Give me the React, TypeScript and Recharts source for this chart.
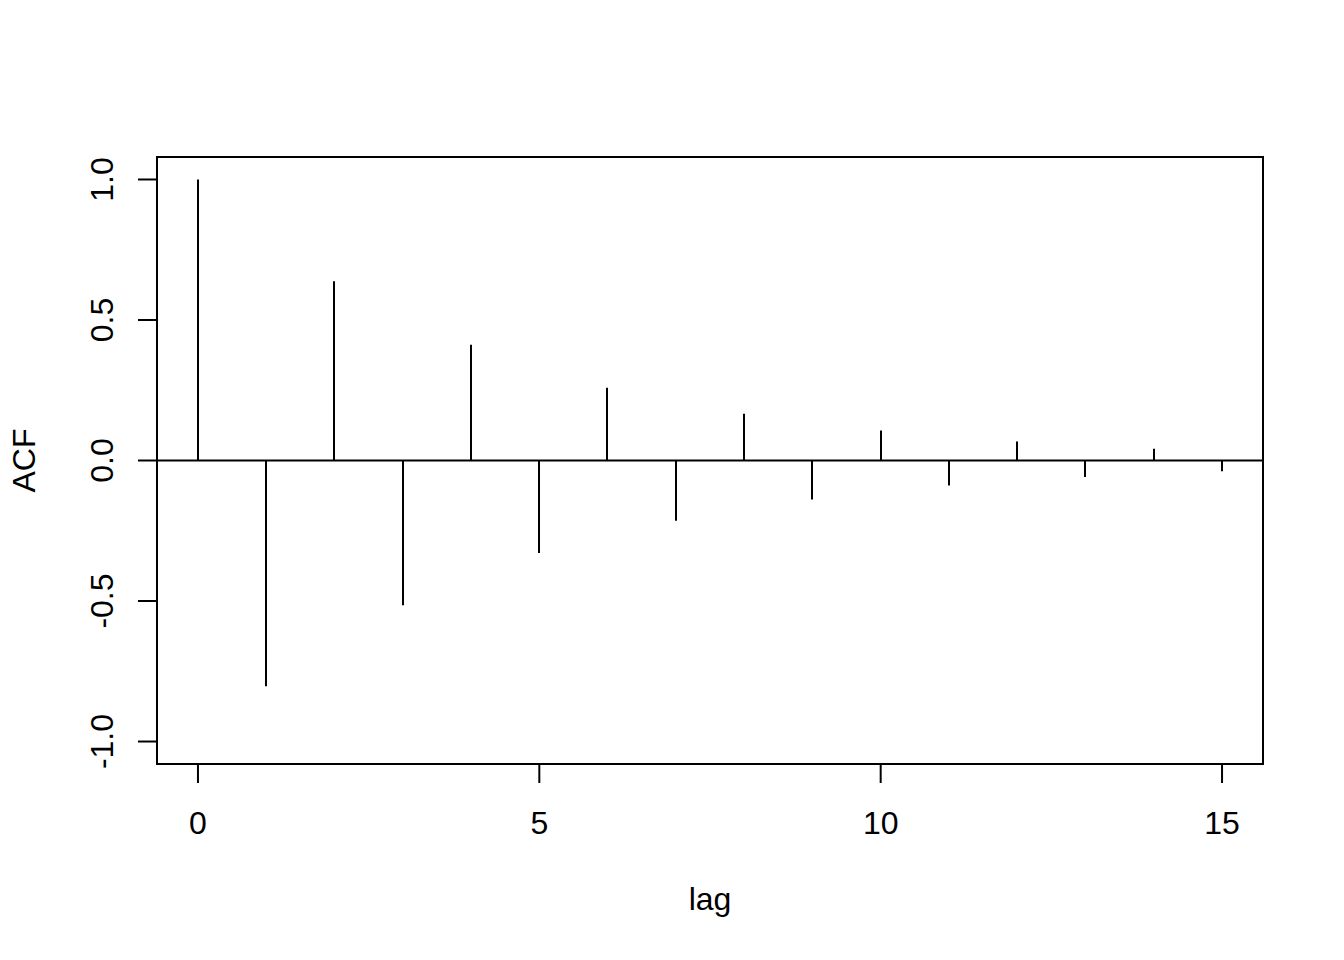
import React from "react";
import {
  ComposedChart,
  Bar,
  XAxis,
  YAxis,
  ReferenceLine,
  ReferenceArea,
  Label,
} from "recharts";

const lags = [0, 1, 2, 3, 4, 5, 6, 7, 8, 9, 10, 11, 12, 13, 14, 15];
const acfValues = [
  1.0, -0.803, 0.638, -0.515, 0.412, -0.329, 0.259, -0.214, 0.166, -0.139,
  0.107, -0.089, 0.068, -0.059, 0.042, -0.038,
];
const xTicks = [0, 5, 10, 15];
const yTicks = [-1, -0.5, 0, 0.5, 1];
const xDomain = [-0.6, 15.6];
const yDomain = [-1.08, 1.08];
const xLabel = "lag";
const yLabel = "ACF";

const data = lags.map((lag, i) => ({ lag, acf: acfValues[i] }));

const FONT = "'Liberation Sans', Arial, Helvetica, sans-serif";

const SpikeShape = (props: any) => {
  const { x, y, width, height } = props;
  const cx = Math.round(x + width / 2);
  return (
    <line
      x1={cx}
      x2={cx}
      y1={y}
      y2={y + height}
      stroke="#000"
      strokeWidth={2}
    />
  );
};

const XTick = (props: any) => {
  const { x, y, payload } = props;
  return (
    <text
      x={x}
      y={y}
      textAnchor="middle"
      fontFamily={FONT}
      fontSize={32}
      fill="#000"
    >
      {String(payload.value)}
    </text>
  );
};

const YTick = (props: any) => {
  const { x, y, payload } = props;
  const v = Number(payload.value);
  return (
    <text
      x={x}
      y={y}
      transform={`rotate(-90, ${x}, ${y})`}
      textAnchor="middle"
      fontFamily={FONT}
      fontSize={32}
      fill="#000"
    >
      {v.toFixed(1)}
    </text>
  );
};

export default function App() {
  return (
    <div
      style={{
        position: "absolute",
        left: 0,
        top: 0,
        width: 1344,
        height: 960,
        background: "#fff",
      }}
    >
      <ComposedChart
        width={1344}
        height={960}
        data={data}
        margin={{ top: 157, right: 81, bottom: 0, left: 0 }}
      >
        <XAxis
          dataKey="lag"
          type="number"
          domain={xDomain}
          ticks={xTicks}
          allowDataOverflow
          height={196}
          tickSize={19}
          tickMargin={51}
          tick={<XTick />}
          axisLine={{ stroke: "#000", strokeWidth: 2 }}
          tickLine={{ stroke: "#000", strokeWidth: 2 }}
          interval={0}
        >
          <Label
            content={(p: any) => {
              const vb = p.viewBox || {};
              return (
                <text
                  x={vb.x + vb.width / 2}
                  y={vb.y + 146}
                  textAnchor="middle"
                  fontFamily={FONT}
                  fontSize={32}
                  fill="#000"
                >
                  {xLabel}
                </text>
              );
            }}
          />
        </XAxis>
        <YAxis
          type="number"
          domain={yDomain}
          ticks={yTicks}
          allowDataOverflow
          width={157}
          tickSize={19}
          tickMargin={25}
          tick={<YTick />}
          axisLine={{ stroke: "#000", strokeWidth: 2 }}
          tickLine={{ stroke: "#000", strokeWidth: 2 }}
          interval={0}
        >
          <Label
            content={(p: any) => {
              const vb = p.viewBox || {};
              const tx = vb.x + 35;
              const ty = vb.y + vb.height / 2;
              return (
                <text
                  x={tx}
                  y={ty}
                  transform={`rotate(-90, ${tx}, ${ty})`}
                  textAnchor="middle"
                  fontFamily={FONT}
                  fontSize={32}
                  fill="#000"
                >
                  {yLabel}
                </text>
              );
            }}
          />
        </YAxis>
        <ReferenceArea
          x1={xDomain[0]}
          x2={xDomain[1]}
          y1={yDomain[0]}
          y2={yDomain[1]}
          fill="none"
          fillOpacity={0}
          stroke="#000"
          strokeWidth={2}
          ifOverflow="visible"
        />
        <ReferenceLine y={0} stroke="#000" strokeWidth={2} />
        <Bar
          dataKey="acf"
          barSize={4}
          fill="#000"
          shape={<SpikeShape />}
          isAnimationActive={false}
        />
      </ComposedChart>
    </div>
  );
}
